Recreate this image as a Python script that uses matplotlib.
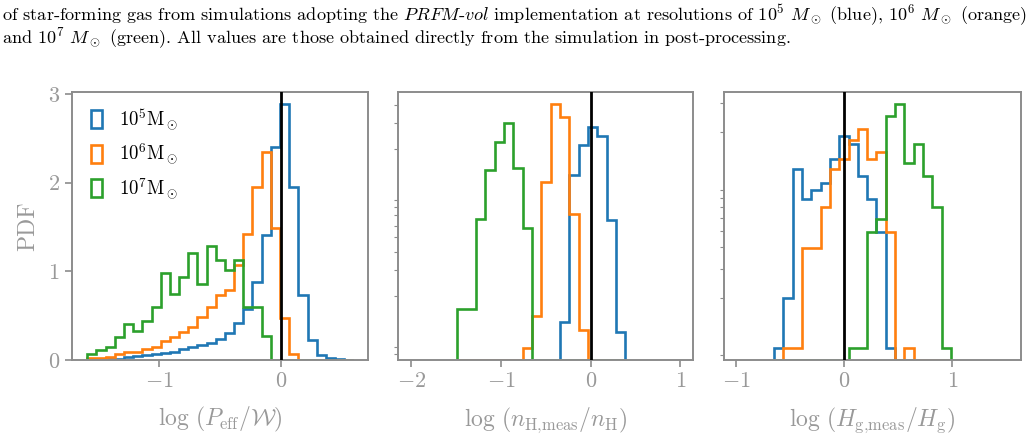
import numpy as np
import matplotlib
matplotlib.use("Agg")
import matplotlib.pyplot as plt

plt.rcParams['font.family'] = ['cmr10', 'DejaVu Serif']
plt.rcParams['mathtext.fontset'] = 'cm'
plt.rcParams['axes.formatter.use_mathtext'] = True

labels = [r'$10^5\mathrm{M}_\odot$', r'$10^6\mathrm{M}_\odot$', r'$10^7\mathrm{M}_\odot$']
colors = ['#1f77b4', '#ff7f0e', '#2ca02c']

# panel 1: log(P_eff / W), 29 bins
edges_p = np.linspace(-1.587, 0.594, 30)
p_blue = [0.003, 0.005, 0.01, 0.015, 0.03, 0.045, 0.056, 0.068, 0.083, 0.094,
          0.12, 0.15, 0.165, 0.19, 0.24, 0.30, 0.42, 0.58, 0.88, 1.41,
          2.40, 2.89, 1.95, 0.73, 0.22, 0.06, 0.02, 0.008, 0.005]
p_orange = [0.019, 0.025, 0.037, 0.068, 0.094, 0.094, 0.12, 0.15, 0.21, 0.26,
            0.32, 0.375, 0.49, 0.60, 0.73, 0.79, 1.07, 1.42, 1.95, 2.35,
            1.49, 0.47, 0.07, 0, 0, 0, 0, 0, 0]
p_green = [0.068, 0.11, 0.15, 0.26, 0.41, 0.33, 0.44, 0.60, 0.98, 0.74,
           0.94, 1.21, 0.86, 1.28, 1.13, 1.02, 1.13, 0.60, 0.60, 0.27,
           0, 0, 0, 0, 0, 0, 0, 0, 0]

# panel 2: log(n_H,meas / n_H), 18 bins
edges_n = np.linspace(-1.487, 0.385, 19)
n_blue = [0, 0, 0, 0, 0, 0, 0, 0, 0, 0, 0, 0.43, 2.09, 2.42, 2.63, 2.53, 1.58, 0.32]
n_orange = [0, 0, 0, 0, 0, 0, 0, 0.135, 0.50, 2.01, 2.89, 2.74, 1.65, 0.34, 0, 0, 0, 0]
n_green = [0.58, 0.58, 1.59, 2.14, 2.46, 2.67, 2.16, 1.49, 0, 0, 0, 0, 0, 0, 0, 0, 0, 0]

# panel 3: log(H_g,meas / H_g), 19 bins
edges_h = np.linspace(-0.651, 0.988, 20)
h_blue = [0.14, 0.70, 2.15, 1.82, 1.92, 2.0, 2.27, 2.53, 2.43, 2.08,
          1.82, 1.44, 0.14, 0, 0, 0, 0, 0, 0]
h_orange = [0, 0.14, 0.14, 1.26, 1.26, 1.72, 2.15, 2.27, 2.48, 2.60,
            2.27, 2.34, 1.44, 0, 0.14, 0, 0, 0, 0]
h_green = [0, 0, 0, 0, 0, 0, 0, 0, 0.14, 0.14,
           1.44, 1.59, 2.75, 2.89, 2.22, 2.44, 2.08, 1.72, 0.14]

# odd unlabeled y ticks on the right two panels
yticks_n = [2.875, 2.675, 2.38, 1.80, 1.73, 1.63, 1.51, 1.39, 1.22, 1.02, 0.725, 0.15, 0.068]
yticks_h = [2.90, 2.57, 1.92, 1.83, 1.72, 1.60, 1.45, 1.27, 1.03, 0.70, 0.056]

panels = [
    (edges_p, [p_blue, p_orange, p_green], (-1.715, 0.716), [-1, 0],
     r'$\log\,(P_{\rm eff}/\mathcal{W})$'),
    (edges_n, [n_blue, n_orange, n_green], (-2.145, 1.144), [-2, -1, 0, 1],
     r'$\log\,(n_{\rm H{,}meas}/n_{\rm H})$'),
    (edges_h, [h_blue, h_orange, h_green], (-1.114, 1.633), [-1, 0, 1],
     r'$\log\,(H_{\rm g{,}meas}/H_{\rm g})$'),
]

W, H = 1033, 438
fig = plt.figure(figsize=(W / 100, H / 100), dpi=100)

lefts = [71.7, 398.3, 724.0]
widths = [296.6, 295.0, 296.7]
grey = '0.55'
lightgrey = '0.6'

for i, (edges, series, xlim, xt, xlabel) in enumerate(panels):
    ax = fig.add_axes([lefts[i] / W, (H - 360) / H, widths[i] / W, 268.3 / H])
    for vals, c, lab in zip(series, colors, labels):
        ax.hist(edges[:-1], bins=edges, weights=vals, histtype='step',
                color=c, lw=1.9, label=lab)
    ax.axvline(0, color='k', lw=2, zorder=5)
    ax.set_xlim(*xlim)
    ax.set_ylim(0, 3.025)
    ax.set_xticks(xt)
    ax.set_xlabel(xlabel, fontsize=17, color=lightgrey, labelpad=10)
    for sp in ax.spines.values():
        sp.set_color(grey)
        sp.set_linewidth(1.4)
    ax.tick_params(axis='both', colors=grey, labelcolor=lightgrey, labelsize=16,
                   length=5, width=1.2)
    if i == 0:
        ax.set_yticks([0, 1, 2, 3])
        ax.set_ylabel('PDF', fontsize=17, color=lightgrey, labelpad=6)
        ax.legend(loc='upper left', frameon=False, fontsize=13.5,
                  handlelength=0.6, handleheight=1.1, handletextpad=0.9,
                  labelspacing=0.55, borderaxespad=0.3, bbox_to_anchor=(0.02, 0.99))
    else:
        ax.set_yticks(yticks_n if i == 1 else yticks_h)
        ax.set_yticklabels([])
        ax.tick_params(axis='y', length=3, width=0.8)

caption1 = (r'of star-forming gas from simulations adopting the $\mathit{PRFM}$-$\mathit{vol}$ '
            r'implementation at resolutions of $10^5$ $M_\odot$ (blue), $10^6$ $M_\odot$ (orange)')
caption2 = (r'and $10^7$ $M_\odot$ (green). All values are those obtained directly '
            r'from the simulation in post-processing.')
fig.text(0.002, 1 - 15 / H, caption1, fontsize=13.1, va='center', ha='left')
fig.text(0.002, 1 - 38 / H, caption2, fontsize=13.1, va='center', ha='left')

fig.savefig('out.png', dpi=100)
